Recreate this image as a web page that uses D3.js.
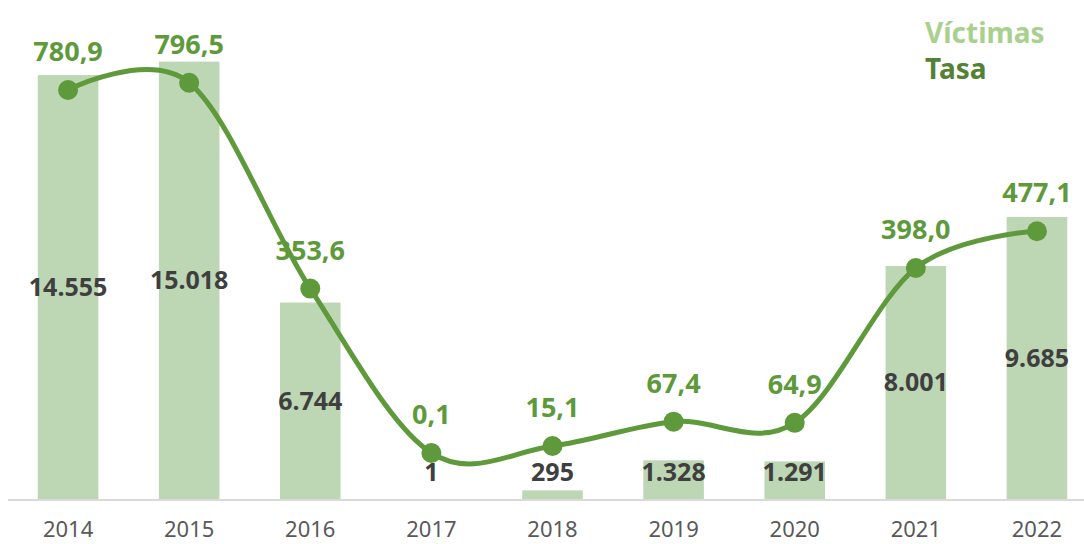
<!DOCTYPE html>
<html>
<head>
<meta charset="utf-8">
<script src="https://cdn.jsdelivr.net/npm/d3@7"></script>
<style>
  body { margin: 0; background: #fff; }
  svg { display: block; font-family: "Noto Sans", "Open Sans", sans-serif; }
</style>
</head>
<body>
<div id="chart"></div>
<script>
const width = 1084
const height = 544

// data
const years = ["2014", "2015", "2016", "2017", "2018", "2019", "2020", "2021", "2022"]
const victimas = [14555, 15018, 6744, 1, 295, 1328, 1291, 8001, 9685]
const victimasLabels = ["14.555", "15.018", "6.744", "1", "295", "1.328", "1.291", "8.001", "9.685"]
const tasa = [780.9, 796.5, 353.6, 0.1, 15.1, 67.4, 64.9, 398.0, 477.1]
const tasaLabels = ["780,9", "796,5", "353,6", "0,1", "15,1", "67,4", "64,9", "398,0", "477,1"]

const barColor = "#bdd6b4"
const lineColor = "#5e9a3b"

const svg = d3.select("#chart").append("svg")
  .attr("width", width)
  .attr("height", height)

const baseY = 499

const x = d3.scaleBand().domain(years).range([7.5, 1097.5]).paddingInner(0.5).paddingOuter(0.25)
const yBar = d3.scaleLinear().domain([0, 16000]).range([baseY, 33])
const yLine = d3.scaleLinear().domain([0, 800]).range([453, 81.1])

// bars
svg.append("g")
  .selectAll("rect")
  .data(victimas)
  .join("rect")
  .attr("x", (d, i) => x(years[i]))
  .attr("width", x.bandwidth())
  .attr("y", d => yBar(d))
  .attr("height", d => baseY - yBar(d))
  .attr("fill", barColor)

// axis line
svg.append("line")
  .attr("x1", 8).attr("x2", width)
  .attr("y1", baseY + 1).attr("y2", baseY + 1)
  .attr("stroke", "#d9d9d9")
  .attr("stroke-width", 2)

// year labels
const xAxis = d3.axisBottom(x).tickSize(0).tickPadding(22)
const gx = svg.append("g")
  .attr("transform", "translate(0," + baseY + ")")
  .call(xAxis)
gx.select(".domain").remove()
gx.selectAll("text")
  .attr("font-size", 22)
  .attr("fill", "#595959")
  .attr("font-family", "\"Noto Sans\", sans-serif")

// bar value labels
svg.append("g")
  .selectAll("text")
  .data(victimas)
  .join("text")
  .attr("x", (d, i) => x(years[i]) + x.bandwidth() / 2)
  .attr("y", d => Math.min((yBar(d) + baseY) / 2, baseY - 27))
  .attr("dy", "0.36em")
  .attr("text-anchor", "middle")
  .attr("font-size", 25)
  .attr("font-weight", "bold")
  .attr("fill", "#3f3f3f")
  .text((d, i) => victimasLabels[i])

// line
const line = d3.line()
  .x((d, i) => x(years[i]) + x.bandwidth() / 2)
  .y(d => yLine(d))
  .curve(d3.curveCardinal.tension(0))

svg.append("path")
  .datum(tasa)
  .attr("d", line)
  .attr("fill", "none")
  .attr("stroke", lineColor)
  .attr("stroke-width", 5)

svg.append("g")
  .selectAll("circle")
  .data(tasa)
  .join("circle")
  .attr("cx", (d, i) => x(years[i]) + x.bandwidth() / 2)
  .attr("cy", d => yLine(d))
  .attr("r", 10)
  .attr("fill", lineColor)

// rate labels
svg.append("g")
  .selectAll("text")
  .data(tasa)
  .join("text")
  .attr("x", (d, i) => x(years[i]) + x.bandwidth() / 2)
  .attr("y", d => yLine(d) - 29)
  .attr("text-anchor", "middle")
  .attr("font-size", 27)
  .attr("font-weight", "bold")
  .attr("fill", lineColor)
  .text((d, i) => tasaLabels[i])

// legend
svg.append("text")
  .attr("x", 925).attr("y", 43)
  .attr("font-size", 28)
  .attr("font-weight", "bold")
  .attr("fill", "#a9d18e")
  .text("Víctimas")
svg.append("text")
  .attr("x", 925).attr("y", 79)
  .attr("font-size", 28)
  .attr("font-weight", "bold")
  .attr("fill", "#548235")
  .text("Tasa")
</script>
</body>
</html>
